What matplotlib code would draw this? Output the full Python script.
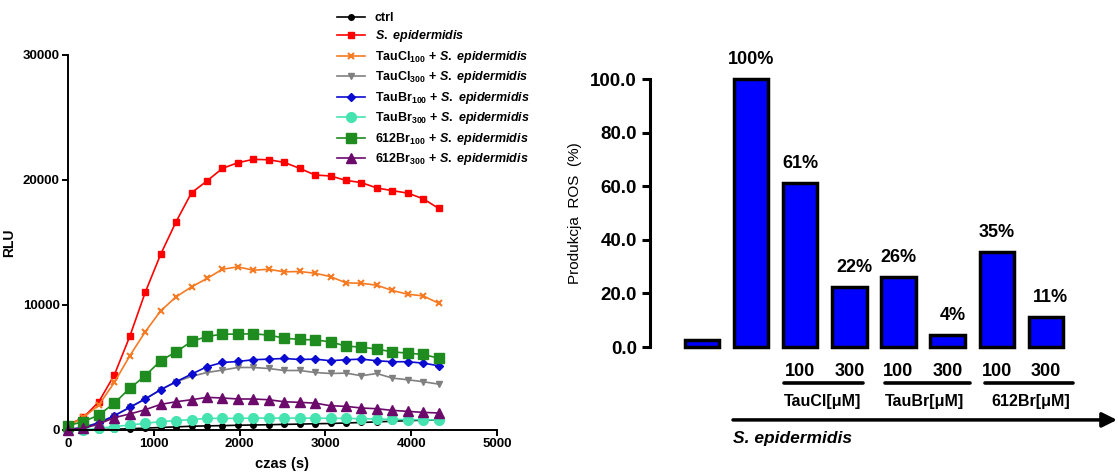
import numpy as np
import matplotlib
matplotlib.use('Agg')
import matplotlib.pyplot as plt

plt.rcParams['font.family'] = ['Liberation Sans', 'DejaVu Sans']
plt.rcParams['mathtext.fontset'] = 'custom'
plt.rcParams['mathtext.rm'] = 'Liberation Sans:bold'
plt.rcParams['mathtext.it'] = 'Liberation Sans:italic:bold'
plt.rcParams['mathtext.bf'] = 'Liberation Sans:bold'

# ---- kinetics data (RLU vs time) ----
time_s = [0, 180, 360, 540, 720, 900, 1080, 1260, 1440, 1620, 1800, 1980, 2160,
          2340, 2520, 2700, 2880, 3060, 3240, 3420, 3600, 3780, 3960, 4140, 4320]
ctrl = [0, 0, 30, 60, 100, 150, 200, 250, 300, 330, 350, 380, 400,
        420, 450, 470, 500, 520, 560, 600, 650, 700, 750, 780, 800]
s_epi = [400, 1000, 2260, 4400, 7480, 11000, 14050, 16660, 18980, 19920, 20930, 21380, 21650,
         21620, 21410, 20930, 20400, 20320, 19970, 19790, 19360, 19150, 18950, 18500, 17730]
taucl100 = [350, 1000, 2000, 3800, 5930, 7850, 9530, 10650, 11450, 12120, 12860, 13050, 12780,
            12860, 12650, 12680, 12540, 12270, 11770, 11740, 11580, 11160, 10860, 10730, 10140]
taucl300 = [30, 210, 600, 1140, 1810, 2480, 3220, 3860, 4290, 4600, 4790, 5000, 5000,
            4920, 4760, 4760, 4600, 4520, 4550, 4340, 4520, 4150, 4020, 3860, 3670]
taubr100 = [30, 210, 560, 1140, 1810, 2480, 3220, 3860, 4470, 5060, 5400, 5480, 5620,
            5670, 5720, 5640, 5670, 5540, 5620, 5670, 5540, 5460, 5460, 5350, 5140]
taubr300 = [0, 0, 130, 270, 400, 530, 670, 750, 830, 930, 930, 930, 950,
            950, 950, 950, 950, 930, 930, 900, 880, 850, 830, 820, 800]
br612_100 = [350, 670, 1200, 2150, 3330, 4340, 5540, 6250, 7080, 7480, 7670, 7670, 7700,
             7590, 7350, 7240, 7210, 7050, 6710, 6630, 6470, 6250, 6150, 6040, 5750]
br612_300 = [30, 130, 480, 990, 1280, 1620, 2050, 2260, 2420, 2610, 2560, 2480, 2480,
             2420, 2260, 2210, 2150, 1940, 1890, 1760, 1700, 1570, 1490, 1410, 1360]

series_labels = ['ctrl',
                 r'$\mathit{S.\ epidermidis}$',
                 r'TauCl$_{100}$ + $\mathit{S.\ epidermidis}$',
                 r'TauCl$_{300}$ + $\mathit{S.\ epidermidis}$',
                 r'TauBr$_{100}$ + $\mathit{S.\ epidermidis}$',
                 r'TauBr$_{300}$ + $\mathit{S.\ epidermidis}$',
                 r'612Br$_{100}$ + $\mathit{S.\ epidermidis}$',
                 r'612Br$_{300}$ + $\mathit{S.\ epidermidis}$']

# ---- ROS production bars ----
ros_values = [2.5, 100, 61.3, 22.4, 26.3, 4.6, 35.5, 11.3]
ros_labels = ['', '100%', '61%', '22%', '26%', '4%', '35%', '11%']
conc_labels = ['', '', '100', '300', '100', '300', '100', '300']
group_names = ['TauCl[\u03bcM]', 'TauBr[\u03bcM]', '612Br[\u03bcM]']

fig = plt.figure(figsize=(11.18, 4.72), dpi=100)

# ================= left: kinetics =================
ax1 = fig.add_axes([0.0608, 0.089, 0.3837, 0.7945])
styles = [
    dict(color='black', marker='o', ms=4),
    dict(color='#ff0000', marker='s', ms=4.5),
    dict(color='#f57a22', marker='x', ms=5, mew=1.5),
    dict(color='#808080', marker='v', ms=5),
    dict(color='#0a0ad0', marker='D', ms=4),
    dict(color='#45e3b0', marker='o', ms=7),
    dict(color='#1e8c1e', marker='s', ms=7),
    dict(color='#6b0a6b', marker='^', ms=7),
]
all_series = [ctrl, s_epi, taucl100, taucl300, taubr100, taubr300, br612_100, br612_300]
handles = []
for ys, st, lab in zip(all_series, styles, series_labels):
    h, = ax1.plot(time_s, ys, lw=1.2, clip_on=False, label=lab, **st)
    handles.append(h)

ax1.set_xlim(0, 5000)
ax1.set_ylim(0, 30000)
ax1.set_xticks([0, 1000, 2000, 3000, 4000, 5000])
ax1.set_yticks([0, 10000, 20000, 30000])
for s in ['top', 'right']:
    ax1.spines[s].set_visible(False)
for s in ['left', 'bottom']:
    ax1.spines[s].set_linewidth(1.4)
ax1.tick_params(width=1.4, length=4, labelsize=9.5, pad=2)
for t in ax1.get_xticklabels() + ax1.get_yticklabels():
    t.set_fontweight('bold')
ax1.set_xlabel('czas (s)', fontsize=10.5, fontweight='bold', labelpad=5)
ax1.set_ylabel('RLU', fontsize=10, fontweight='bold', labelpad=5)

fig.legend(handles=handles, loc='upper left', bbox_to_anchor=(0.296, 0.988),
           frameon=False, prop=dict(size=9, weight='bold'), handlelength=2.2,
           labelspacing=0.36, handletextpad=0.8, borderpad=0)

# ================= right: ROS bars =================
ax2 = fig.add_axes([0.5814, 0.2648, 0.4186, 0.5678])
xpos = np.arange(len(ros_values))
ax2.bar(xpos, ros_values, width=0.7, color='#0000ff', edgecolor='black',
        linewidth=2.5, clip_on=False)
ax2.set_xlim(-1.06, 8.47)
ax2.set_ylim(0, 100)
ax2.set_yticks([0, 20, 40, 60, 80, 100])
ax2.set_yticklabels([f'{v:.1f}' for v in [0, 20, 40, 60, 80, 100]])
ax2.set_xticks([])
for s in ['top', 'right', 'bottom']:
    ax2.spines[s].set_visible(False)
ax2.spines['left'].set_linewidth(2.2)
ax2.tick_params(axis='y', width=2.2, length=6, labelsize=13.5)
for t in ax2.get_yticklabels():
    t.set_fontweight('bold')
ax2.set_ylabel('Produkcja  ROS  (%)', fontsize=11, labelpad=6)

for x, v, lab in zip(xpos, ros_values, ros_labels):
    if lab:
        dx = 0.1 if v < 25 and v != 100 else 0
        ax2.text(x + dx, v + 4, lab, ha='center', va='bottom', fontsize=13,
                 fontweight='bold', clip_on=False)

for x, lab in zip(xpos, conc_labels):
    if lab:
        ax2.text(x, -9.3, lab, ha='center', va='center', fontsize=13,
                 fontweight='bold', clip_on=False)

underlines = [(1.67, 3.28), (3.73, 5.46), (5.76, 7.56)]
group_x = [1.67, 3.73, 5.9]
for (x0, x1), gx, name in zip(underlines, group_x, group_names):
    ax2.plot([x0, x1], [-13.4, -13.4], color='black', lw=2.6,
             solid_capstyle='round', clip_on=False)
    ax2.text(gx, -20.5, name, ha='left', va='center', fontsize=11.5,
             fontweight='bold', clip_on=False)

ax2.annotate('', xy=(8.45, -27.2), xytext=(0.63, -27.2),
             arrowprops=dict(arrowstyle='-|>', lw=2.5, color='black',
                             mutation_scale=22, shrinkA=0, shrinkB=0),
             annotation_clip=False)
ax2.text(0.63, -34, 'S. epidermidis', ha='left', va='center', fontsize=12.5,
         fontstyle='italic', fontweight='bold', clip_on=False)

fig.savefig('out.png', dpi=100)
